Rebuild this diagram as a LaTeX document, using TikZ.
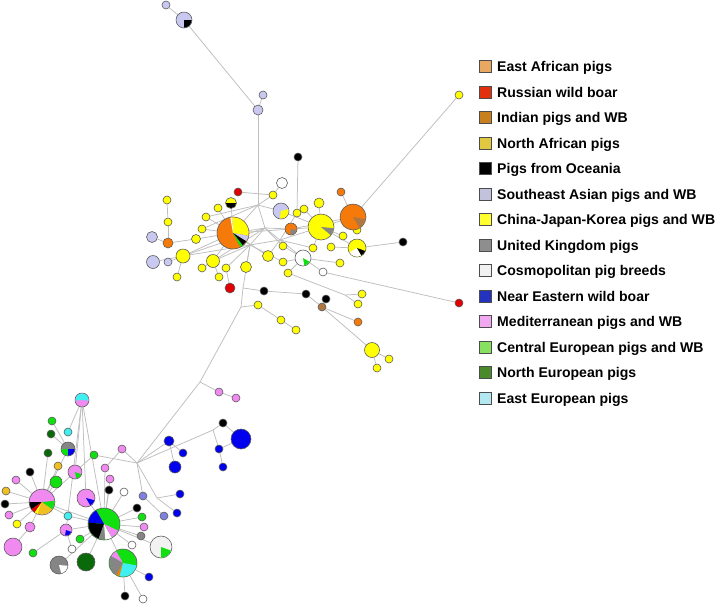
\documentclass[tikz,border=0pt]{standalone}
\usepackage{fontspec}
\setmainfont{Liberation Sans}
\usetikzlibrary{backgrounds}

% network colours
\definecolor{wire}{HTML}{BEBEBE}
\definecolor{ring}{HTML}{5A5A5A}
\definecolor{yel}{HTML}{FFFF00}
\definecolor{lav}{HTML}{C8C8F0}
\definecolor{org}{HTML}{F57A0A}
\definecolor{hred}{HTML}{E00000}
\definecolor{brn}{HTML}{B07840}
\definecolor{gry}{HTML}{858585}
\definecolor{gld}{HTML}{F0C020}
\definecolor{grn}{HTML}{10E010}
\definecolor{dgr}{HTML}{0A6A0A}
\definecolor{pnk}{HTML}{F08AF0}
\definecolor{blu}{HTML}{0000EE}
\definecolor{cyn}{HTML}{40F0F0}
\definecolor{slt}{HTML}{8080E0}
\definecolor{pal}{HTML}{F2F2F2}
% legend colours
\definecolor{kEAf}{HTML}{E8A862}
\definecolor{kRus}{HTML}{E0300E}
\definecolor{kInd}{HTML}{C8801E}
\definecolor{kNAf}{HTML}{E0C840}
\definecolor{kSEA}{HTML}{C2C2DC}
\definecolor{kCJK}{HTML}{FFFF30}
\definecolor{kUK}{HTML}{8E8E8E}
\definecolor{kCos}{HTML}{F2F2F2}
\definecolor{kNE}{HTML}{2432C0}
\definecolor{kMed}{HTML}{F0A8F0}
\definecolor{kCE}{HTML}{88E060}
\definecolor{kNEu}{HTML}{4A8A2A}
\definecolor{kEEu}{HTML}{B4E8F0}

% wedge of a haplotype pie: node, radius, from, to, colour
\newcommand{\hapslice}[5]{\fill[#5] (#1.center) -- ++({-(#3)}:{#2-0.4}) arc[start angle={-(#3)}, end angle={-(#4)}, radius={#2-0.4}] -- cycle;}

\begin{document}
\begin{tikzpicture}[
    x=0.03cm, y=-0.03cm,
    hap/.style={circle, draw=ring, fill=white, line width=0.5pt, inner sep=0pt, minimum size=2.4mm},
    sz/.style={minimum size=#1*0.6mm},
    link/.style={draw=wire, line width=0.65pt},
    key/.style={draw=black!70, line width=0.5pt, minimum size=3.6mm, inner sep=0pt},
    keytext/.style={anchor=base west, inner sep=0pt, font=\bfseries\fontsize{12}{14}\selectfont}
]
\useasboundingbox (0,0) rectangle (722,604);

% Asian branch (top)
\node[hap, fill=lav] (sa1) at (166,5) {};
\node[hap, fill=lav, sz=8] (sa2) at (184,20) {};
\node[hap, fill=lav] (sa3) at (263,95) {};
\node[hap, fill=lav, sz=5] (sa4) at (258,110) {};
\hapslice{sa2}{8}{-90}{0}{black}

\foreach \n/\x/\y in {y1/273/195, y2/297/213, y3/304/209, y4/218/208, y5/167/200, y6/168/222, y7/206/217,
    y8/202/229, y9/357/230, y10/343/236, y11/283/246, y12/313/248, y13/331/247, y14/283/262, y15/340/263,
    y16/288/273, y17/459/95, y18/202/268, y19/226/268, y20/177/277, y21/219/277, y22/362/294, y23/358/304,
    y24/258/305, y25/281/320, y26/296/330, y27/389/359, y28/377/368}
  \node[hap, fill=yel] (\n) at (\x,\y) {};
\foreach \n/\x/\y/\s in {y29/319/203/5, y30/196/239/4.5, y31/268/256/5.5, y32/183/256/7, y33/213/261/6.5,
    y34/246/267/5.5, y35/372/350/7.5}
  \node[hap, fill=yel, sz=\s] (\n) at (\x,\y) {};

\node[hap, fill=lav, sz=5.5] (v1) at (152,237) {};
\node[hap, fill=lav, sz=6.5] (v2) at (153,262) {};
\node[hap, fill=lav] (v3) at (168,262) {};
\node[hap, fill=org, sz=5] (o1) at (168,243) {};
\node[hap, fill=org] (o2) at (341,192) {};
\node[hap, fill=org] (o3) at (358,322) {};
\node[hap, fill=hred] (r1) at (238,192) {};
\node[hap, fill=hred, sz=5] (r2) at (230,288) {};
\node[hap, fill=hred] (r3) at (459,303) {};
\foreach \n/\x/\y in {k1/298/157, k2/403/242, k3/264/291, k4/306/294, k5/326/299}
  \node[hap, fill=black] (\n) at (\x,\y) {};
\node[hap, fill=brn] (w1) at (322,307) {};
\node[hap, sz=5.5] (wt1) at (282,183) {};
\node[hap] (wt2) at (323,272) {};

% pies of the Asian cluster
\node[hap, fill=yel, sz=5.5] (p1) at (231,203) {};
\hapslice{p1}{5.5}{180}{360}{black}
\node[hap, fill=lav, sz=8] (p2) at (281,211) {};
\hapslice{p2}{8}{-100}{15}{yel}
\node[hap, fill=org, sz=16] (p3) at (233,233) {};
\hapslice{p3}{16}{-10}{92}{yel}
\hapslice{p3}{16}{92}{100}{white}
\hapslice{p3}{16}{-32}{-10}{lav}
\hapslice{p3}{16}{-52}{-32}{black}
\hapslice{p3}{16}{-62}{-52}{grn}
\node[hap, fill=org, sz=6] (p4) at (291,229) {};
\hapslice{p4}{6}{-100}{-10}{gry}
\node[hap, fill=yel, sz=13] (p5) at (321,227) {};
\hapslice{p5}{13}{-40}{-5}{gry}
\node[hap, fill=org, sz=13] (p6) at (353,217) {};
\hapslice{p6}{13}{-60}{-10}{brn}
\node[hap, fill=yel, sz=9] (p7) at (357,248) {};
\hapslice{p7}{9}{-150}{-60}{white}
\hapslice{p7}{9}{-60}{-20}{black}
\node[hap, sz=8] (p8) at (303,258) {};
\hapslice{p8}{8}{-80}{-30}{grn}

% Near Eastern branch
\node[hap, fill=pnk] (pk1) at (219,392) {};
\node[hap, fill=pnk] (pk2) at (236,398) {};
\node[hap, fill=black] (k6) at (223,423) {};
\node[hap, fill=blu, sz=10] (b1) at (241,439) {};
\node[hap, fill=blu, sz=5] (b2) at (169,441) {};
\node[hap, fill=blu, sz=6] (b4) at (175,467) {};
\foreach \n/\x/\y in {b3/183/453, b5/219/449, b6/223/467, b7/180/494, b8/177/513, b9/149/577}
  \node[hap, fill=blu] (\n) at (\x,\y) {};
\node[hap, fill=slt] (s1) at (143,496) {};
\node[hap, fill=slt] (s2) at (164,516) {};

% European cluster (bottom)
\foreach \n/\x/\y/\c in {g1/52/421/grn, c1/68/432/cyn, dg1/51/434/dgr, dg2/48/453/dgr, g2/94/455/grn,
    pk3/122/449/pnk, gd1/58/466/gld, k7/30/472/black, pk4/105/468/pnk, pk5/16/480/pnk, pk6/110/479/pnk,
    gd2/6/491/gld, k8/5/504/black, k9/109/490/black, wt3/124/492/white, pk7/9/515/pnk, yl/17/524/yel,
    c2/68/516/cyn, k10/137/508/black, g4/142/517/grn, pk9/144/527/pnk, gy1/141/536/gry, g5/33/553/grn,
    g6/80/539/grn, wt4/72/549/white, wt5/132/545/white, k11/125/596/black, wt6/143/599/white}
  \node[hap, fill=\c] (\n) at (\x,\y) {};
\node[hap, fill=grn, sz=6] (g3) at (56,482) {};
\node[hap, fill=pnk, sz=5] (pk8) at (30,527) {};
\node[hap, fill=pnk, sz=9] (pk10) at (13,547) {};
\node[hap, fill=dgr, sz=9] (dg3) at (86,562) {};

\node[hap, fill=pnk, sz=7] (cp) at (82,400) {};
\hapslice{cp}{7}{-5}{185}{cyn}
\node[hap, fill=gry, sz=7] (ggb) at (68,449) {};
\hapslice{ggb}{7}{180}{270}{grn}
\hapslice{ggb}{7}{270}{360}{blu}
\node[hap, fill=pnk, sz=7] (pg) at (75,472) {};
\hapslice{pg}{7}{-80}{-20}{grn}
\node[hap, fill=pnk, sz=13] (mp) at (42,502) {};
\hapslice{mp}{13}{180}{215}{black}
\hapslice{mp}{13}{215}{235}{hred}
\hapslice{mp}{13}{235}{250}{yel}
\hapslice{mp}{13}{250}{325}{gld}
\hapslice{mp}{13}{325}{365}{grn}
\node[hap, fill=pnk, sz=9] (pb) at (86,498) {};
\hapslice{pb}{9}{-60}{-15}{blu}
\node[hap, fill=grn, sz=16] (big) at (104,524) {};
\hapslice{big}{16}{120}{175}{blu}
\hapslice{big}{16}{175}{250}{black}
\hapslice{big}{16}{250}{275}{gry}
\hapslice{big}{16}{275}{300}{white}
\hapslice{big}{16}{300}{335}{pnk}
\node[hap, fill=pnk, sz=6] (pbl) at (66,530) {};
\hapslice{pbl}{6}{-100}{-20}{blu}
\node[hap, fill=gry, sz=9] (gw) at (59,565) {};
\hapslice{gw}{9}{-75}{-5}{white}
\node[hap, fill=grn, sz=14] (bot) at (123,563) {};
\hapslice{bot}{14}{120}{150}{pnk}
\hapslice{bot}{14}{150}{240}{gry}
\hapslice{bot}{14}{240}{255}{org}
\hapslice{bot}{14}{255}{350}{cyn}
\node[hap, fill=pal, sz=11] (wg) at (161,547) {};
\hapslice{wg}{11}{-90}{-20}{grn}

% median vectors
\coordinate (hA) at (258,205);
\coordinate (hB) at (265,228);
\coordinate (hC) at (250,245);
\coordinate (hD) at (280,240);
\coordinate (j1) at (243,288);
\coordinate (j2) at (241,307);
\coordinate (jR) at (345,295);
\coordinate (jp) at (200,382);
\coordinate (jb) at (137,463);
\coordinate (jn) at (213,430);
\coordinate (jl) at (157,498);

\begin{scope}[on background layer]
\foreach \a/\b in {sa1/sa2, sa2/sa4, sa3/sa4, sa4/hA, hA/y1, y1/wt1, y1/r1, hA/p3, hA/p2, hA/hB, hA/y7,
    hB/p4, hB/p3, hB/y11, hB/hD, hB/hC, hD/p5, hD/p8, hD/y31, hD/y2, hC/p3, hC/y34, hC/y19, hC/y33,
    hC/y32, hC/j1, k1/y2, y3/p5, y29/p5, p5/p6, p6/o2, p6/y17, p6/y9, y10/p5, p5/p7, p7/k2, y13/p7,
    y12/p5, y15/p8, y14/p8, y16/p8, wt2/p8, wt2/r3, p1/p3, y4/p3, y7/p3, y8/p3, y5/y6, y6/o1, o1/v1,
    o1/y30, y30/p3, y32/v2, y32/v3, y32/y20, y32/p3, y33/p3, y33/y18, y33/y21, r2/y19, p2/p5, p4/p6,
    y32/hB, y33/hB, y8/hA, hC/hD, y11/p8, y14/hC, y31/p3, p3/p5, y12/hD,
    j1/k3, k3/k4, k4/w1, w1/k5, w1/o3, w1/y35, y35/y27, y35/y28, y16/jR, jR/y22, jR/y23, j1/j2,
    j2/y24, y24/y25, y25/y26, j2/jp, jp/pk1, pk1/pk2, jp/jb,
    jb/jn, jn/k6, k6/b1, jn/b5, b5/b1, b5/b6, jb/b2, b2/b3, b2/b4, jb/jl, jl/b7, jl/b8, jb/s1, s1/s2,
    jb/g2, g2/pg, pk3/pk4, pk3/jb, pk4/big, pk6/big, cp/pg, cp/pb, cp/big, cp/pbl, cp/c1,
    g1/ggb, dg1/ggb, ggb/mp, dg2/mp, gd1/mp, k7/mp, pk5/mp, gd2/mp, k8/mp, pk7/mp, yl/mp, pk8/mp,
    g3/mp, mp/big, mp/c2, c2/big, pk10/pk8, g5/pbl, pbl/big, g6/big, wt4/pbl, gw/big, dg3/big,
    pb/big, pg/mp, big/k9, big/wt3, big/k10, big/g4, big/pk9, big/gy1, big/wt5, big/wg, big/bot,
    bot/b9, bot/k11, bot/wt6}
  \draw[link] (\a) -- (\b);
\end{scope}

% legend
\foreach \col/\txt [count=\i from 0] in {kEAf/East African pigs, kRus/Russian wild boar,
    kInd/Indian pigs and WB, kNAf/North African pigs, black/Pigs from Oceania,
    kSEA/Southeast Asian pigs and WB, kCJK/China-Japan-Korea pigs and WB, kUK/United Kingdom pigs,
    kCos/Cosmopolitan pig breeds, kNE/Near Eastern wild boar, kMed/Mediterranean pigs and WB,
    kCE/Central European pigs and WB, kNEu/North European pigs, kEEu/East European pigs}
{
  \node[key, fill=\col] (key\i) at (485,{66.5+25.5*\i}) {};
  \node[keytext] (lab\i) at (497,{71.5+25.5*\i}) {\txt};
}

\end{tikzpicture}
\end{document}
